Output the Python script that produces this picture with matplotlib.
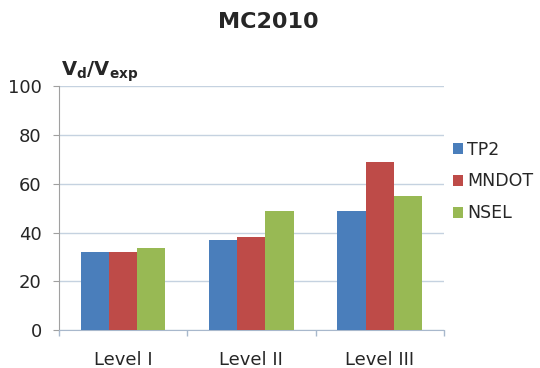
import matplotlib
matplotlib.use("Agg")
import matplotlib.pyplot as plt
import numpy as np
from matplotlib.ticker import FixedLocator

levels = ["Level I", "Level II", "Level III"]
series_names = ["TP2", "MNDOT", "NSEL"]
tp2 = [32, 37, 49]
mndot = [32, 38, 69]
nsel = [33.5, 49, 55]
yticks = [0, 20, 40, 60, 80, 100]

colors = ["#4a7ebb", "#be4b48", "#98b954"]
text_color = "#262626"

fig = plt.figure(figsize=(5.4, 3.68), dpi=100)
ax = fig.add_axes([0.109, 0.103, 0.713, 0.663])

x = np.arange(len(levels))
width = 0.22
for i, (vals, name) in enumerate(zip([tp2, mndot, nsel], series_names)):
    ax.bar(x + (i - 1) * width, vals, width, color=colors[i], label=name,
           zorder=3, linewidth=0)

ax.set_xlim(-0.5, len(levels) - 0.5)
ax.set_ylim(0, 100)
ax.set_yticks(yticks)
ax.yaxis.grid(True, color="#c5d2e0", linewidth=1.0, zorder=0)
ax.set_axisbelow(True)

ax.set_xticks(x)
ax.set_xticklabels(levels)
ax.xaxis.set_minor_locator(FixedLocator(np.arange(-0.5, len(levels), 1.0)))
ax.tick_params(axis="x", which="major", length=0, pad=15, labelsize=13,
               labelcolor=text_color)
ax.tick_params(axis="x", which="minor", length=4, color="#a8b8cc", width=1)
ax.tick_params(axis="y", length=4.3, pad=8, labelsize=13, color="#a0a0a0",
               labelcolor=text_color)

for side in ["top", "right"]:
    ax.spines[side].set_visible(False)
ax.spines["left"].set_color("#a0a0a0")
ax.spines["bottom"].set_color("#a8b8cc")

fig.text(0.497, 0.94, "MC2010", ha="center", va="center", fontsize=16,
         fontweight="bold", color=text_color)
fig.text(0.113, 0.795, r"$\mathbf{V}_{\mathbf{d}}\mathbf{/V}_{\mathbf{exp}}$",
         ha="left", va="baseline", fontsize=14, color=text_color)

ax.legend(loc="upper left", bbox_to_anchor=(0.839, 0.618),
          bbox_transform=fig.transFigure, frameon=False, fontsize=12.5,
          handlelength=0.6, handleheight=0.6, handletextpad=0.2,
          labelspacing=0.8, borderpad=0, borderaxespad=0,
          labelcolor=text_color)

fig.savefig("out.png", dpi=100)
